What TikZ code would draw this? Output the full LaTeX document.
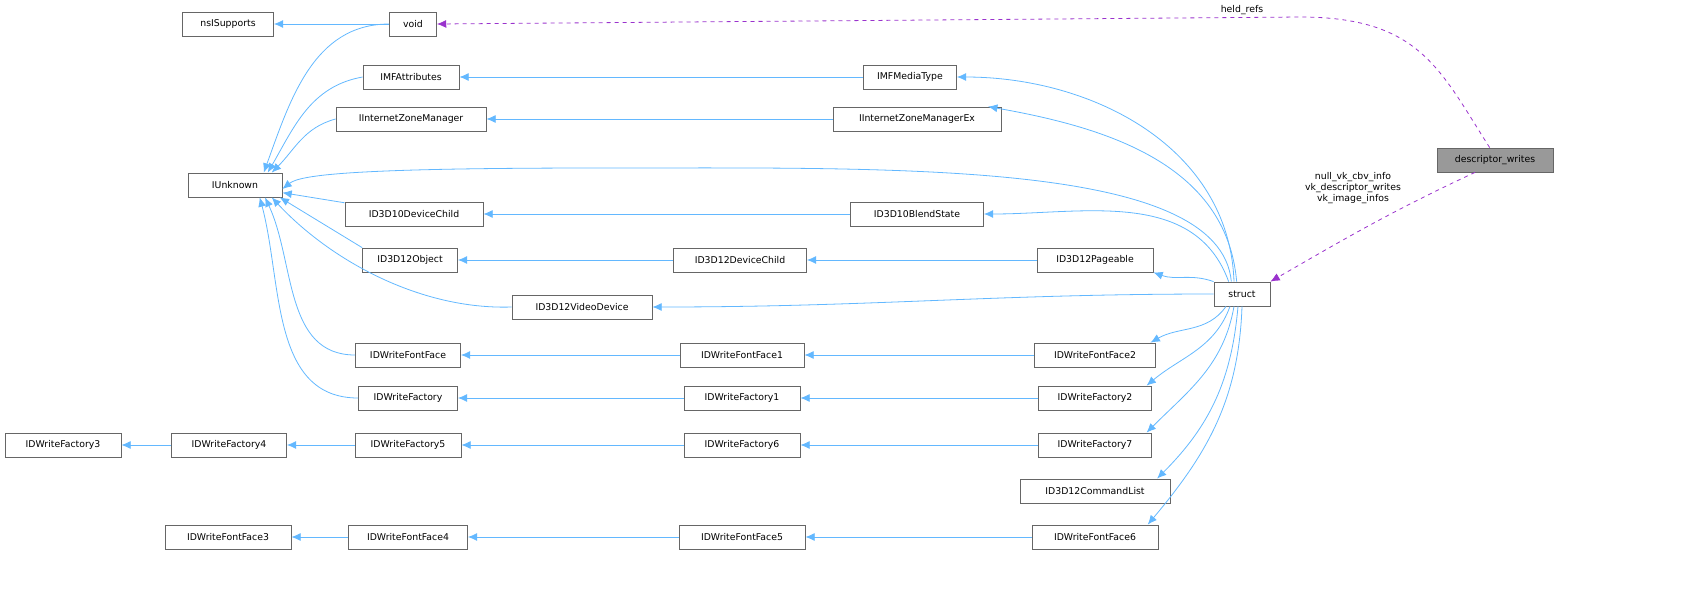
\documentclass[tikz,border=0pt]{standalone}
\usepackage{fontspec}
\setmainfont{DejaVu Sans}
\usetikzlibrary{arrows.meta}
\definecolor{eblue}{HTML}{63B8FF}
\definecolor{epurp}{HTML}{9A32CD}
\begin{document}
\begin{tikzpicture}[x=0.75pt,y=-0.75pt,
 box/.style={draw=black!60,line width=0.6pt,minimum height=18pt,inner sep=0pt,font=\fontsize{7}{9}\selectfont},
 inh/.style={draw=eblue,line width=0.6pt,-{Latex[length=7pt,width=6pt]}},
 use/.style={draw=epurp,line width=0.6pt,dashed,-{Latex[length=7pt,width=6pt]}},
 lab/.style={font=\fontsize{7}{8.4}\selectfont,align=center}]
\useasboundingbox (0,0) rectangle (1704,601);
\newcommand\nd[5]{\node[box,minimum width=#4*0.75pt] (#1) at (#2,#3) {#5};}
\nd{nsI}{228}{24}{91}{nsISupports}
\nd{void}{413}{24}{47}{void}
\nd{imfa}{411}{77}{96}{IMFAttributes}
\nd{imfm}{910}{77}{93}{IMFMediaType}
\nd{izm}{411}{119}{150}{IInternetZoneManager}
\nd{izmx}{917}{119}{168}{IInternetZoneManagerEx}
\nd{iunk}{235}{185}{94}{IUnknown}
\nd{d10dc}{414}{214}{138}{ID3D10DeviceChild}
\nd{d10bs}{917}{214}{133}{ID3D10BlendState}
\nd{d12o}{410}{260}{95}{ID3D12Object}
\nd{d12dc}{740}{260}{133}{ID3D12DeviceChild}
\nd{d12p}{1095}{260}{116}{ID3D12Pageable}
\nd{struct}{1242}{294}{56}{struct}
\nd{d12vd}{582}{307}{140}{ID3D12VideoDevice}
\nd{ff}{408}{355}{105}{IDWriteFontFace}
\nd{ff1}{742}{355}{124}{IDWriteFontFace1}
\nd{ff2}{1095}{355}{121}{IDWriteFontFace2}
\nd{fa}{408}{398}{99}{IDWriteFactory}
\nd{fa1}{742}{398}{116}{IDWriteFactory1}
\nd{fa2}{1095}{398}{113}{IDWriteFactory2}
\nd{fa3}{63}{445}{116}{IDWriteFactory3}
\nd{fa4}{229}{445}{115}{IDWriteFactory4}
\nd{fa5}{408}{445}{106}{IDWriteFactory5}
\nd{fa6}{742}{445}{116}{IDWriteFactory6}
\nd{fa7}{1095}{445}{113}{IDWriteFactory7}
\nd{cl}{1095}{491}{150}{ID3D12CommandList}
\nd{ff3}{228}{537}{126}{IDWriteFontFace3}
\nd{ff4}{408}{537}{119}{IDWriteFontFace4}
\nd{ff5}{742}{537}{126}{IDWriteFontFace5}
\nd{ff6}{1095}{537}{126}{IDWriteFontFace6}
\node[box,fill=black!40,minimum width=116*0.75pt] (dw) at (1495,160) {descriptor\_writes};
% inheritance
\draw[inh] (void) -- (nsI);
\draw[inh] (imfm) -- (imfa);
\draw[inh] (izmx) -- (izm);
\draw[inh] (d10dc) -- (iunk);
\draw[inh] (d10bs) -- (d10dc);
\draw[inh] (d12dc) -- (d12o);
\draw[inh] (d12p) -- (d12dc);
\draw[inh] (ff1) -- (ff);
\draw[inh] (ff2) -- (ff1);
\draw[inh] (fa1) -- (fa);
\draw[inh] (fa2) -- (fa1);
\draw[inh] (fa4) -- (fa3);
\draw[inh] (fa5) -- (fa4);
\draw[inh] (fa6) -- (fa5);
\draw[inh] (fa7) -- (fa6);
\draw[inh] (ff4) -- (ff3);
\draw[inh] (ff5) -- (ff4);
\draw[inh] (ff6) -- (ff5);
\draw[inh] (void.west) to[out=180,in=70] ([xshift=-14pt]iunk.north east);
\draw[inh] (imfa.west) to[out=190,in=60] ([xshift=-11pt]iunk.north east);
\draw[inh] (izm.west) to[out=195,in=45] ([xshift=-8pt]iunk.north east);
\draw[inh] (d12o.north west) -- ([xshift=-2pt]iunk.south east);
\draw[inh] (d12vd.west) .. controls (420,310) and (330,260) .. ([xshift=-8pt]iunk.south east);
\draw[inh] (ff.west) to[out=180,in=-65] ([xshift=-13pt]iunk.south east);
\draw[inh] (fa.west) to[out=180,in=-75] ([xshift=-17pt]iunk.south east);
% struct edges
\draw[inh] ([xshift=-6pt]struct.north) to[out=92,in=0] (imfm.east);
\draw[inh] ([xshift=-4pt]struct.north) to[out=95,in=-10] ([xshift=-10pt]izmx.north east);
\draw[inh] ([xshift=-8pt]struct.north) .. controls (1220,160) and (900,168) .. (600,168) .. controls (350,168) and (300,175) .. ([yshift=-3pt]iunk.east);
\draw[inh] ([xshift=-10pt]struct.north) to[out=110,in=0] (d10bs.east);
\draw[inh] (struct.north west) to[out=160,in=-20] (d12p.south east);
\draw[inh] (struct.west) to[out=180,in=0] (d12vd.east);
\draw[inh] ([xshift=-12pt]struct.south) to[out=-125,in=30] ([xshift=-4pt]ff2.north east);
\draw[inh] ([xshift=-9pt]struct.south) to[out=-110,in=40] ([xshift=-4pt]fa2.north east);
\draw[inh] ([xshift=-6pt]struct.south) to[out=-100,in=45] ([xshift=-4pt]fa7.north east);
\draw[inh] ([xshift=-3pt]struct.south) to[out=-95,in=45] ([xshift=-10pt]cl.north east);
\draw[inh] (struct.south) to[out=-92,in=50] ([xshift=-8pt]ff6.north east);
% usage
\draw[use] ([xshift=-4pt]dw.north) .. controls (1440,70) and (1420,17) .. (1300,17) -- (void.east);
\draw[use] ([xshift=-15pt]dw.south) to[out=-155,in=30] (struct.north east);
\node[lab] (l1) at (1242,10) {held\_refs};
\node[lab] (l2) at (1353,188) {null\_vk\_cbv\_info\\vk\_descriptor\_writes\\vk\_image\_infos};
\end{tikzpicture}
\end{document}
